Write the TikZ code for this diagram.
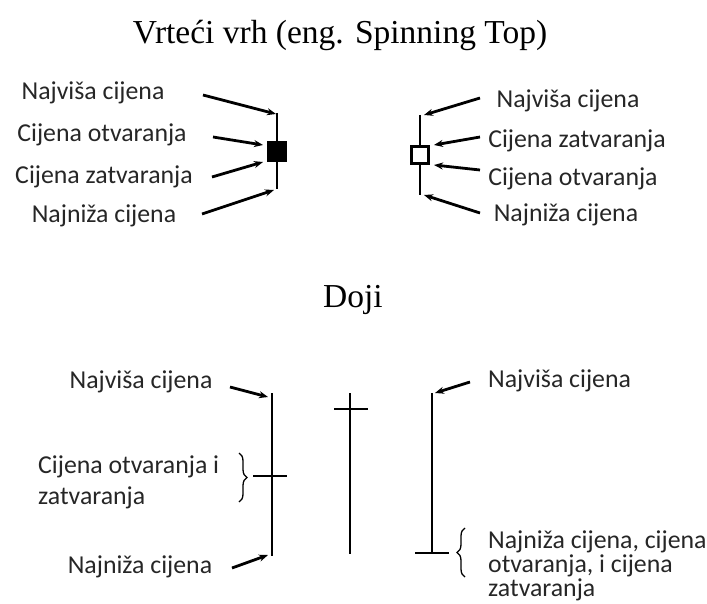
\documentclass[tikz,border=0pt]{standalone}
\usepackage{fontspec}
\setmainfont{Liberation Serif}
\newfontfamily\lbl{Carlito}
\usetikzlibrary{arrows.meta,decorations.pathreplacing}
\tikzset{
  lab/.style={font=\lbl\fontsize{25.8}{30}\selectfont, text=black!85, inner sep=0pt},
  ttl/.style={font=\fontsize{33.5}{38}\selectfont, inner sep=0pt},
  ptr/.style={line width=2.8pt, -{Stealth[length=9pt,width=7pt]}},
  wick/.style={line width=2.8pt},
  brc/.style={line width=1.3pt, decorate, decoration={brace, amplitude=8pt}},
}
\begin{document}
\begin{tikzpicture}[x=1pt,y=-1pt]
\useasboundingbox (0,0) rectangle (707,604);
% titles
\node[ttl] (t1) at (340,35) {Vrteći vrh (eng. Spinning Top)};
\node[ttl] (t2) at (353,300) {Doji};

% ---- top left candle (black body)
\coordinate (lwT) at (277,113);
\coordinate (lwB) at (277,189);
\draw[wick] (lwT) -- (lwB);
\node[draw, fill=black, line width=1pt, minimum width=19pt, minimum height=20pt, inner sep=0pt] (lbody) at (277,152) {};
\node[lab] (l1) at (93,93) {Najviša cijena};
\node[lab] (l2) at (102,135) {Cijena otvaranja};
\node[lab] (l3) at (104,177) {Cijena zatvaranja};
\node[lab] (l4) at (104,216) {Najniža cijena};
\coordinate (l1s) at (203,95);  \coordinate (l1e) at (276,114);
\coordinate (l2s) at (213,137); \coordinate (l2e) at (263,145);
\coordinate (l3s) at (212,177); \coordinate (l3e) at (263,162);
\coordinate (l4s) at (202,214); \coordinate (l4e) at (274,190);
\draw[ptr] (l1s) -- (l1e);
\draw[ptr] (l2s) -- (l2e);
\draw[ptr] (l3s) -- (l3e);
\draw[ptr] (l4s) -- (l4e);

% ---- top right candle (white body)
\coordinate (rwT) at (420,115);
\coordinate (rwB) at (420,195);
\draw[wick] (rwT) -- (rwB);
\node[draw, fill=white, line width=2.4pt, minimum width=17pt, minimum height=17pt, inner sep=0pt] (rbody) at (420,155) {};
\node[lab] (r1) at (568,101) {Najviša cijena};
\node[lab] (r2) at (577,141) {Cijena zatvaranja};
\node[lab] (r3) at (573,179) {Cijena otvaranja};
\node[lab] (r4) at (566,215) {Najniža cijena};
\coordinate (r1s) at (480,98);  \coordinate (r1e) at (424,115);
\coordinate (r2s) at (480,137); \coordinate (r2e) at (434,145);
\coordinate (r3s) at (480,170); \coordinate (r3e) at (434,165);
\coordinate (r4s) at (480,213); \coordinate (r4e) at (424,195);
\draw[ptr] (r1s) -- (r1e);
\draw[ptr] (r2s) -- (r2e);
\draw[ptr] (r3s) -- (r3e);
\draw[ptr] (r4s) -- (r4e);

% ---- Doji left
\coordinate (dlT) at (272,393);
\coordinate (dlB) at (272,556);
\draw[wick] (dlT) -- (dlB);
\coordinate (dlX1) at (253,476); \coordinate (dlX2) at (287,476);
\draw[wick] (dlX1) -- (dlX2);
\node[lab] (d1) at (141,382) {Najviša cijena};
\node[lab, anchor=west, align=left, font=\lbl\fontsize{25.8}{31}\selectfont] (d2) at (38,482) {Cijena otvaranja i\\zatvaranja};
\node[lab] (d3) at (140,567) {Najniža cijena};
\coordinate (d1s) at (230,387); \coordinate (d1e) at (268,397);
\coordinate (d3s) at (232,568); \coordinate (d3e) at (268,555);
\draw[ptr] (d1s) -- (d1e);
\draw[ptr] (d3s) -- (d3e);
\coordinate (b1a) at (239,453); \coordinate (b1b) at (239,502);
\draw[brc] (b1a) -- (b1b);

% ---- Doji middle
\coordinate (dmT) at (350,393);
\coordinate (dmB) at (350,554);
\draw[wick] (dmT) -- (dmB);
\coordinate (dmX1) at (334,409); \coordinate (dmX2) at (368,409);
\draw[wick] (dmX1) -- (dmX2);

% ---- Doji right
\coordinate (drT) at (432,393);
\coordinate (drB) at (432,553);
\draw[wick] (drT) -- (drB);
\coordinate (drX1) at (415,553); \coordinate (drX2) at (449,553);
\draw[wick] (drX1) -- (drX2);
\node[lab, anchor=west] (e1) at (488,381) {Najviša cijena};
\node[lab, anchor=west, align=left, font=\lbl\fontsize{25.8}{24}\selectfont] (e2) at (488,566) {Najniža cijena, cijena\\otvaranja, i cijena\\zatvaranja};
\coordinate (e1s) at (470,382); \coordinate (e1e) at (435,393);
\draw[ptr] (e1s) -- (e1e);
\coordinate (b2a) at (465,577); \coordinate (b2b) at (465,528);
\draw[brc] (b2a) -- (b2b);
\end{tikzpicture}
\end{document}
